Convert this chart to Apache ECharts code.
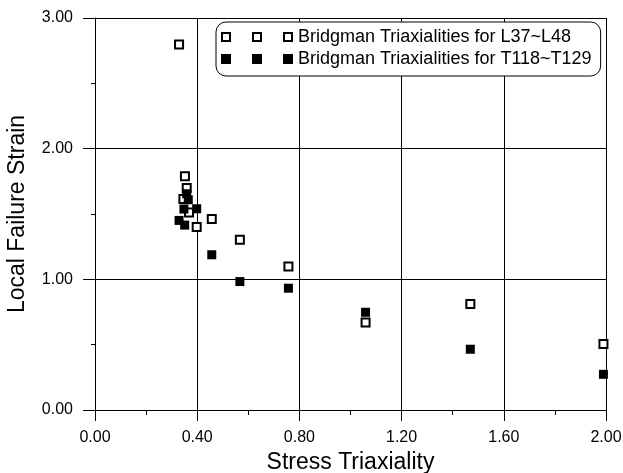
<!DOCTYPE html>
<html>
<head>
<meta charset="utf-8">
<script src="https://cdn.jsdelivr.net/npm/echarts@6/dist/echarts.min.js"></script>
<style>html,body{margin:0;padding:0;background:#fff}#c{width:623px;height:473px}</style>
</head>
<body>
<div id="c"></div>
<script>
var seriesNames = ['Bridgman Triaxialities for L37~L48', 'Bridgman Triaxialities for T118~T129'];
var hollowX = [0.329, 0.352, 0.359, 0.346, 0.368, 0.398, 0.457, 0.567, 0.757, 1.059, 1.469, 1.990];
var hollowY = [2.797, 1.788, 1.699, 1.614, 1.512, 1.400, 1.461, 1.303, 1.098, 0.669, 0.812, 0.506];
var filledX = [0.359, 0.365, 0.348, 0.398, 0.329, 0.351, 0.457, 0.567, 0.757, 1.059, 1.469, 1.990];
var filledY = [1.655, 1.609, 1.538, 1.540, 1.451, 1.415, 1.188, 0.983, 0.932, 0.748, 0.465, 0.273];
var xTitle = 'Stress Triaxiality';
var yTitle = 'Local Failure Strain';

function pairs(xs, ys) { return xs.map(function (x, i) { return [x, ys[i]]; }); }

var font = 'Liberation Sans, Arial, sans-serif';
var hollowIcon = 'path://M0,0h10v10h-10z M2,2v6h6v-6z M31,0h10v10h-10z M33,2v6h6v-6z M62,0h10v10h-10z M64,2v6h6v-6z';
var filledIcon = 'path://M0,0h10v10h-10z M31,0h10v10h-10z M62,0h10v10h-10z';

var chart = echarts.init(document.getElementById('c'), null, {renderer: 'canvas'});
chart.setOption({
  animation: false,
  backgroundColor: '#fff',
  grid: {left: 95, right: 17, top: 18, bottom: 63, containLabel: false, outerBoundsMode: 'none'},
  legend: {
    orient: 'vertical',
    left: 216, top: 22,
    padding: [6, 9, 8, 5],
    borderColor: '#000', borderWidth: 1, borderRadius: 10,
    backgroundColor: '#fff',
    itemWidth: 72, itemHeight: 10, itemGap: 4,
    textStyle: {fontFamily: font, fontSize: 18, color: '#000', lineHeight: 18},
    data: [
      {name: seriesNames[0], icon: hollowIcon, itemStyle: {color: '#000', borderWidth: 0}},
      {name: seriesNames[1], icon: filledIcon, itemStyle: {color: '#000', borderWidth: 0}}
    ]
  },
  xAxis: {
    type: 'value', min: 0, max: 2, interval: 0.4,
    name: xTitle, nameLocation: 'middle', nameGap: 39,
    nameTextStyle: {fontFamily: font, fontSize: 23, color: '#000'},
    axisLine: {show: true, onZero: false, lineStyle: {color: '#000', width: 1}},
    axisTick: {show: true, inside: false, length: 11, lineStyle: {color: '#000'}},
    minorTick: {show: true, splitNumber: 2, length: 5, lineStyle: {color: '#000'}},
    axisLabel: {fontFamily: font, fontSize: 16, color: '#000', margin: 20,
      formatter: function (v) { return v.toFixed(2); }},
    splitLine: {show: true, lineStyle: {color: '#000', width: 1}}
  },
  yAxis: {
    type: 'value', min: 0, max: 3, interval: 1,
    name: yTitle, nameLocation: 'middle', nameGap: 66,
    nameTextStyle: {fontFamily: font, fontSize: 23, color: '#000'},
    axisLine: {show: true, onZero: false, lineStyle: {color: '#000', width: 1}},
    axisTick: {show: true, inside: false, length: 12, lineStyle: {color: '#000'}},
    minorTick: {show: true, splitNumber: 2, length: 4, lineStyle: {color: '#000'}},
    axisLabel: {fontFamily: font, fontSize: 16, color: '#000', margin: 22,
      formatter: function (v) { return v.toFixed(2); }},
    splitLine: {show: true, lineStyle: {color: '#000', width: 1}}
  },
  series: [
    {
      name: seriesNames[0], type: 'scatter', symbol: 'rect', symbolSize: 8,
      itemStyle: {color: '#fff', borderColor: '#000', borderWidth: 2, opacity: 1},
      data: pairs(hollowX, hollowY), clip: false, z: 3
    },
    {
      name: seriesNames[1], type: 'scatter', symbol: 'rect', symbolSize: 9,
      itemStyle: {color: '#000', opacity: 1},
      data: pairs(filledX, filledY), clip: false, z: 4
    }
  ]
});
</script>
</body>
</html>
